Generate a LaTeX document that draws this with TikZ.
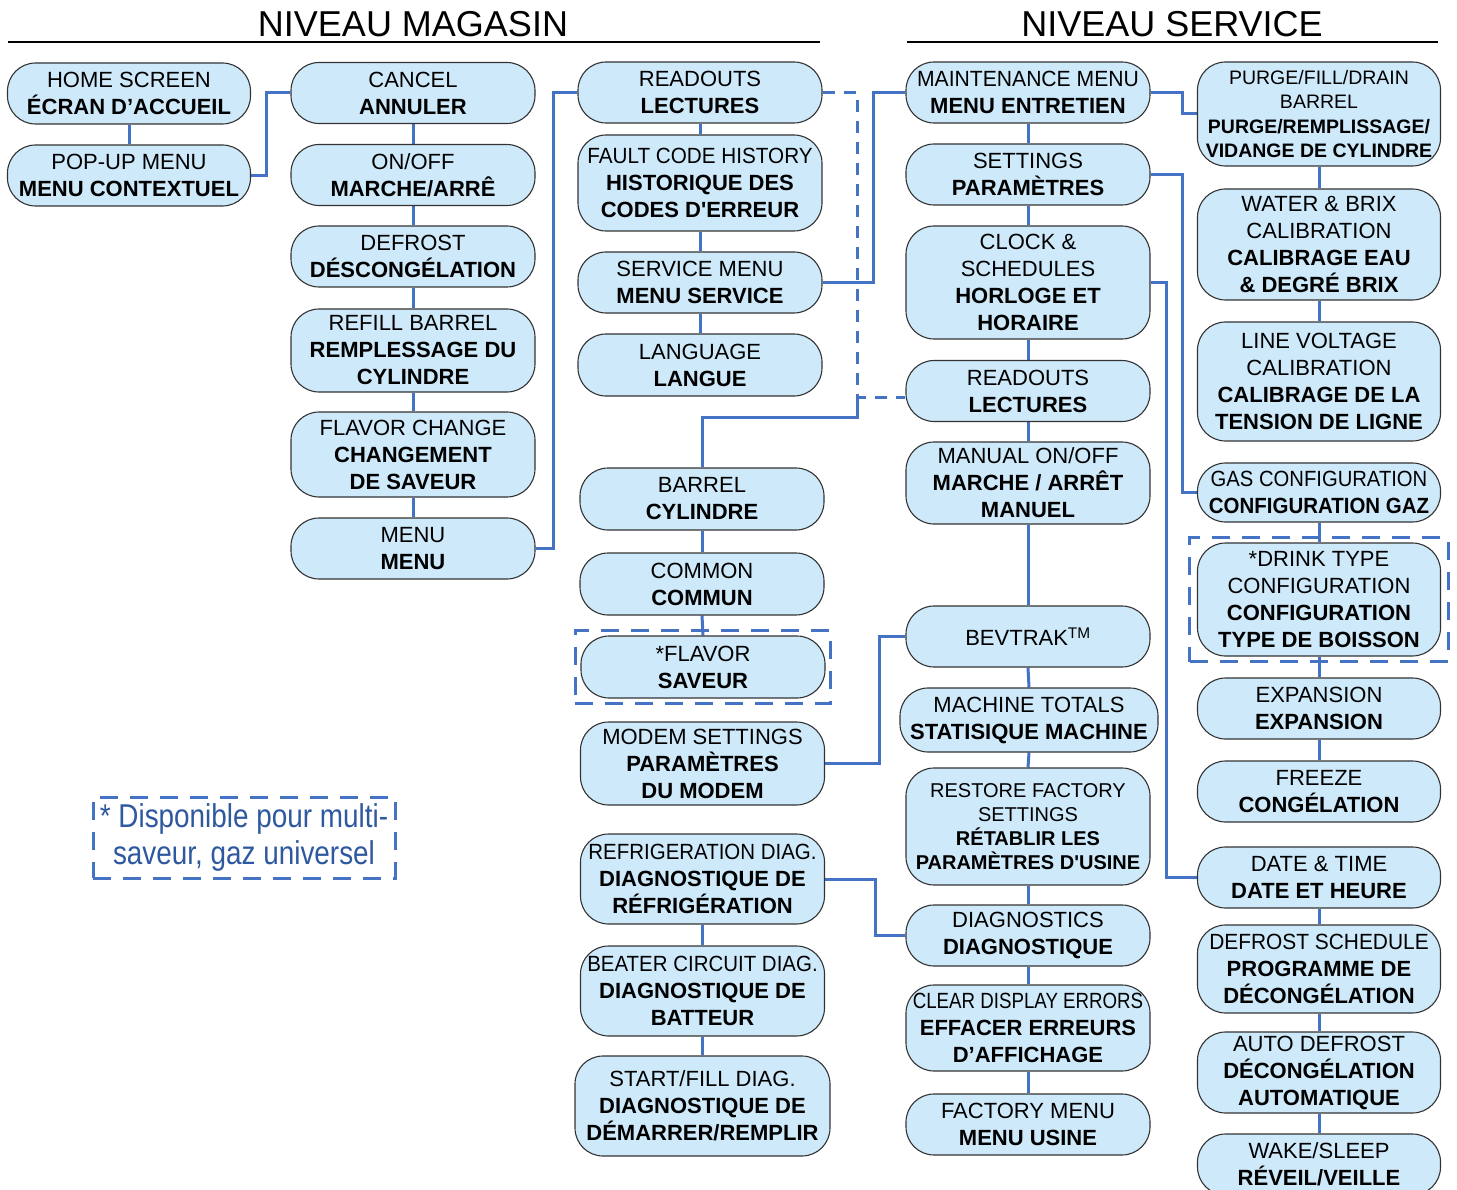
\documentclass[tikz,border=0pt]{standalone}
\usepackage{fontspec}
\setmainfont{Liberation Sans}
\newfontfamily\notefont[FakeStretch=0.845]{Liberation Sans}
\usepackage{graphicx}
\usepackage{tikz}
\usetikzlibrary{
  arrows.meta,
  positioning,
  calc,
  backgrounds,
  fit
}
\definecolor{menufill}{RGB}{206,233,250}
\definecolor{menuline}{RGB}{68,114,196}
\definecolor{notetext}{RGB}{46,88,160}

\begin{document}
\begin{tikzpicture}[x=1pt, y=-1pt,
  menubox/.style={
    draw=black!80, fill=menufill, line width=1.1pt,
    rounded corners=28pt, minimum width=244pt,
    minimum height=61pt, inner sep=1pt, align=center,
    font=\fontsize{22}{27}\selectfont
  },
  title/.style={font=\fontsize{36}{40}\selectfont, anchor=base},
  rule/.style={black, line width=1.6pt},
  link/.style={menuline, line width=3pt},
  dlink/.style={link, dash pattern=on 12pt off 9pt},
  grp/.style={draw=menuline, line width=3pt, dash pattern=on 18pt off 12pt, inner sep=5pt},
  note/.style={
    draw=menuline, line width=3pt, dash pattern=on 18pt off 12pt,
    minimum width=302pt, minimum height=81pt, inner sep=0pt,
    text=notetext, align=center,
    font=\notefont\fontsize{33}{37}\selectfont
  },
]
\useasboundingbox (0,0) rectangle (1457,1190);

\node[title] (magasin) at (413,37) {NIVEAU MAGASIN};
\node[title] (service) at (1172,37) {NIVEAU SERVICE};
\draw[rule] (8,42) -- (820,42);
\draw[rule] (907,42) -- (1438,42);

% niveau magasin
\node[menubox, minimum width=243pt] (home)  at (129,93.5)  {HOME SCREEN\\\textbf{ÉCRAN D’ACCUEIL}};
\node[menubox, minimum width=243pt] (popup) at (129,175.5) {POP-UP MENU\\\textbf{MENU CONTEXTUEL}};

\node[menubox] (cancel)  at (413,93)  {CANCEL\\\textbf{ANNULER}};
\node[menubox] (onoff)   at (413,175) {ON/OFF\\\textbf{MARCHE/ARRÊ}};
\node[menubox] (defrost) at (413,256.5) {DEFROST\\\textbf{DÉSCONGÉLATION}};
\node[menubox, minimum height=83pt] (refill)  at (413,350.5) {REFILL BARREL\\\textbf{REMPLESSAGE DU}\\\textbf{CYLINDRE}};
\node[menubox, minimum height=85pt] (flavchg) at (413,454.5) {FLAVOR CHANGE\\\textbf{CHANGEMENT}\\\textbf{DE SAVEUR}};
\node[menubox] (menu)    at (413,548.5) {MENU\\\textbf{MENU}};

\node[menubox] (readouts) at (700,92.5) {READOUTS\\\textbf{LECTURES}};
\node[menubox, minimum height=96pt] (fault) at (700,183) {\scalebox{0.94}[1]{FAULT CODE HISTORY}\\\textbf{HISTORIQUE DES}\\\textbf{CODES D\textquotesingle ERREUR}};
\node[menubox] (svcmenu)  at (700,282.5) {SERVICE MENU\\\textbf{MENU SERVICE}};
\node[menubox, minimum height=62pt] (language) at (700,365) {LANGUAGE\\\textbf{LANGUE}};

\node[menubox, minimum height=62pt] (barrel) at (702,499) {BARREL\\\textbf{CYLINDRE}};
\node[menubox, minimum height=62pt] (common) at (702,584) {COMMON\\\textbf{COMMUN}};
\node[menubox, minimum height=62pt] (flavor) at (703,667) {*FLAVOR\\\textbf{SAVEUR}};
\node[menubox, minimum height=83pt] (modem)  at (702.5,763.5) {MODEM SETTINGS\\\textbf{PARAMÈTRES}\\\textbf{DU MODEM}};
\node[menubox, minimum height=90pt] (refrig) at (702.5,879) {\scalebox{0.93}[1]{REFRIGERATION DIAG.}\\\textbf{DIAGNOSTIQUE DE}\\\textbf{RÉFRIGÉRATION}};
\node[menubox, minimum height=90pt] (beater) at (702.5,991) {\scalebox{0.93}[1]{BEATER CIRCUIT DIAG.}\\\textbf{DIAGNOSTIQUE DE}\\\textbf{BATTEUR}};
\node[menubox, minimum height=100pt, minimum width=255pt] (startfill) at (702.5,1106) {START/FILL DIAG.\\\textbf{DIAGNOSTIQUE DE}\\\textbf{DÉMARRER/REMPLIR}};

% niveau service
\node[menubox] (maint)     at (1028,92.5)  {\scalebox{0.96}[1]{MAINTENANCE MENU}\\\textbf{MENU ENTRETIEN}};
\node[menubox] (settings)  at (1028,174.5) {SETTINGS\\\textbf{PARAMÈTRES}};
\node[menubox, minimum height=113pt] (clock) at (1028,282.5) {CLOCK \&\\SCHEDULES\\\textbf{HORLOGE ET}\\\textbf{HORAIRE}};
\node[menubox] (readoutsb) at (1028,391) {READOUTS\\\textbf{LECTURES}};
\node[menubox, minimum height=82pt] (manual) at (1028,483) {MANUAL ON/OFF\\\textbf{MARCHE / ARRÊT}\\\textbf{MANUEL}};
\node[menubox] (bevtrak)   at (1028,636.5) {BEVTRAK\textsuperscript{TM}};
\node[menubox, minimum height=64pt, minimum width=258pt] (machine) at (1029,720) {MACHINE TOTALS\\\textbf{STATISIQUE MACHINE}};
\node[menubox, minimum height=117pt, font=\fontsize{20}{24}\selectfont] (restore) at (1028,826.5) {RESTORE FACTORY\\SETTINGS\\\textbf{RÉTABLIR LES}\\\textbf{PARAMÈTRES D\textquotesingle USINE}};
\node[menubox] (diag)      at (1028,935.5) {DIAGNOSTICS\\\textbf{DIAGNOSTIQUE}};
\node[menubox, minimum height=86pt] (clear) at (1028,1028) {\scalebox{0.85}[1]{CLEAR DISPLAY ERRORS}\\\textbf{EFFACER ERREURS}\\\textbf{D’AFFICHAGE}};
\node[menubox] (factory)   at (1028,1124.5) {FACTORY MENU\\\textbf{MENU USINE}};

\node[menubox, minimum width=243pt, minimum height=104pt, font=\fontsize{19.5}{24.5}\selectfont] (purge) at (1319,114) {PURGE/FILL/DRAIN\\BARREL\\\textbf{PURGE/REMPLISSAGE/}\\\textbf{VIDANGE DE CYLINDRE}};
\node[menubox, minimum width=243pt, minimum height=111pt] (water) at (1319,244.5) {WATER \& BRIX\\CALIBRATION\\\textbf{CALIBRAGE EAU}\\\textbf{\& DEGRÉ BRIX}};
\node[menubox, minimum width=243pt, minimum height=119pt] (linev) at (1319,381.5) {LINE VOLTAGE\\CALIBRATION\\\textbf{CALIBRAGE DE LA}\\\textbf{TENSION DE LIGNE}};
\node[menubox, minimum width=243pt, minimum height=59pt] (gas) at (1319,492.5) {\scalebox{0.92}[1]{GAS CONFIGURATION}\\\textbf{\scalebox{0.93}[1]{CONFIGURATION GAZ}}};
\node[menubox, minimum width=243pt, minimum height=113pt] (drink) at (1319,599.5) {*DRINK TYPE\\CONFIGURATION\\\textbf{CONFIGURATION}\\\textbf{TYPE DE BOISSON}};
\node[menubox, minimum width=243pt] (expansion) at (1319,708.5) {EXPANSION\\\textbf{EXPANSION}};
\node[menubox, minimum width=243pt] (freeze)    at (1319,791.5) {FREEZE\\\textbf{CONGÉLATION}};
\node[menubox, minimum width=243pt] (datetime)  at (1319,877.5) {DATE \& TIME\\\textbf{DATE ET HEURE}};
\node[menubox, minimum width=243pt, minimum height=88pt] (defsched) at (1319,969) {\scalebox{0.95}[1]{DEFROST SCHEDULE}\\\textbf{PROGRAMME DE}\\\textbf{DÉCONGÉLATION}};
\node[menubox, minimum width=243pt, minimum height=81pt] (autodef) at (1319,1072.5) {AUTO DEFROST\\\textbf{DÉCONGÉLATION}\\\textbf{AUTOMATIQUE}};
\node[menubox, minimum width=243pt] (wake)      at (1319,1164.5) {WAKE/SLEEP\\\textbf{RÉVEIL/VEILLE}};

% multi-flavour groups and legend
\node[grp, fit=(flavor)] (flavorgrp) {};
\node[grp, fit=(drink), inner xsep=7pt] (drinkgrp) {};
\node[note] (legend) at (244,837.5) {* Disponible pour multi-\\saveur, gaz universel};

\coordinate (jn) at (857,397);
\coordinate (jb) at (857,417);

\begin{scope}[on background layer]
\foreach \a/\b in {home/popup, cancel/onoff, onoff/defrost, defrost/refill,
    refill/flavchg, flavchg/menu, readouts/fault, fault/svcmenu,
    svcmenu/language, barrel/common, common/flavor, refrig/beater,
    beater/startfill, maint/settings, settings/clock, clock/readoutsb,
    readoutsb/manual, manual/bevtrak, bevtrak/machine, machine/restore,
    restore/diag, diag/clear, clear/factory, purge/water, water/linev,
    gas/drink, drink/expansion, expansion/freeze, datetime/defsched,
    defsched/autodef, autodef/wake}
  \draw[link] (\a.south) -- (\b.north);

\draw[link] (popup.east) -- ++(15,0) |- (cancel.west);
\draw[link] (menu.east) -- ++(18,0) |- (readouts.west);
\draw[link] (svcmenu.east) -- ++(51,0) |- (maint.west);
\draw[link] (modem.east) -- ++(54,0) |- (bevtrak.west);
\draw[link] (refrig.east) -- ++(50,0) |- (diag.west);
\draw[link] (maint.east) -- ++(32,0) |- (purge.west);
\draw[link] (settings.east) -- ++(32,0) |- (gas.west);
\draw[link] (clock.east) -- ++(16,0) |- (datetime.west);

% readouts link between both levels
\draw[dlink] (readouts.east) -| (jn) -- (readoutsb.west |- jn);
\draw[link] (barrel.north) |- (jb) -- (jn);
\end{scope}

\end{tikzpicture}
\end{document}
